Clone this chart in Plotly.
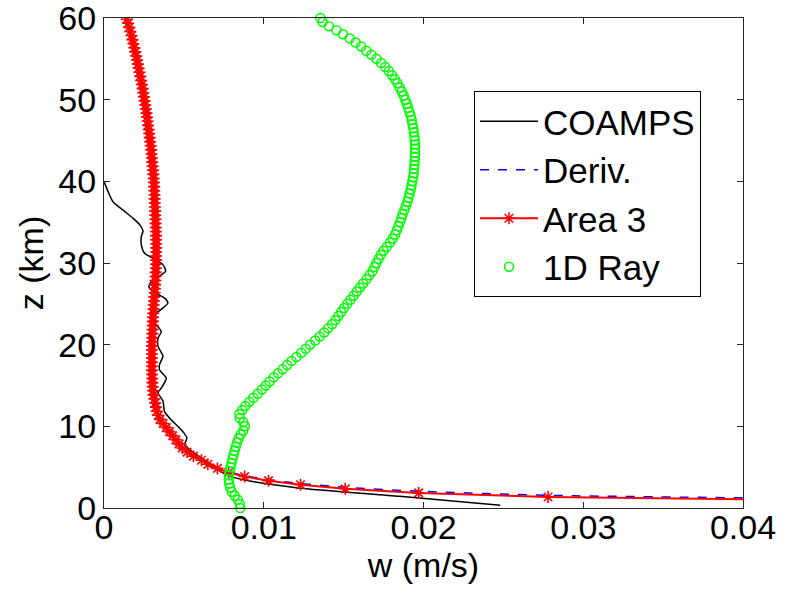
import plotly.graph_objects as go

# ---------------- data ----------------
coamps_z = [40.0, 38.8, 37.5, 36.5, 35.5, 34.7, 33.9, 33.3, 32.2, 31.2, 30.6, 29.8, 29.0, 28.4,
            27.7, 27.1, 26.5, 25.7, 25.1, 24.5, 23.7, 23.3, 22.2, 21.6, 20.8, 19.8, 18.6, 17.6,
            16.9, 15.9, 14.7, 14.1, 13.1, 11.8, 11.0, 9.8, 9.2, 8.6, 7.75, 7.15, 6.25, 5.3,
            4.7, 3.9, 3.3, 2.46, 1.43, 0.33]
coamps_w = [0.0, 0.00024, 0.00056, 0.00118, 0.00181, 0.00223, 0.00244, 0.00234, 0.00234, 0.00254,
            0.00306, 0.00369, 0.00386, 0.00348, 0.00296, 0.00281, 0.00306, 0.00379, 0.0040, 0.00369,
            0.00317, 0.00296, 0.00338, 0.00359, 0.00338, 0.00338, 0.00369, 0.00348, 0.00348, 0.0039,
            0.00359, 0.00338, 0.00369, 0.00379, 0.00411, 0.00473, 0.0050, 0.00519, 0.00505, 0.00536,
            0.00599, 0.00672, 0.00712, 0.00786, 0.00912, 0.01215, 0.0185, 0.0248]

deriv_z = [1.05, 1.55, 2.05, 2.53, 3.0, 3.48, 3.95, 4.45, 4.93, 5.87, 7.85, 9.85, 11.85, 14.85,
           19.85, 24.85, 29.85, 34.85, 39.85, 44.85, 49.85, 54.85, 59.85]
deriv_w = [0.0490, 0.0278, 0.0197, 0.0151, 0.0123, 0.0103, 0.0088, 0.0078, 0.0071, 0.0061,
           0.0047, 0.0039, 0.0033, 0.00305, 0.0030, 0.00311, 0.00326, 0.00323, 0.00313,
           0.00289, 0.00254, 0.00207, 0.00143]

area3_z = [0.85, 1.35, 1.85, 2.35, 2.85, 3.35, 3.85, 4.35, 4.85, 5.35, 5.85, 6.35, 6.85, 7.35,
           7.85, 8.35, 8.85, 9.35, 9.85, 10.35, 10.85, 11.35, 11.85, 12.35, 12.85, 13.35, 13.85,
           14.35, 14.85, 15.35, 15.85, 16.35, 16.85, 17.35, 17.85, 18.35, 18.85, 19.35, 19.85,
           20.35, 20.85, 21.35, 21.85, 22.35, 22.85, 23.35, 23.85, 24.35, 24.85, 25.35, 25.85,
           26.35, 26.85, 27.35, 27.85, 28.35, 28.85, 29.35, 29.85, 30.35, 30.85, 31.35, 31.85,
           32.35, 32.85, 33.35, 33.85, 34.35, 34.85, 35.35, 35.85, 36.35, 36.85, 37.35, 37.85,
           38.35, 38.85, 39.35, 39.85, 40.35, 40.85, 41.35, 41.85, 42.35, 42.85, 43.35, 43.85,
           44.35, 44.85, 45.35, 45.85, 46.35, 46.85, 47.35, 47.85, 48.35, 48.85, 49.35, 49.85,
           50.35, 50.85, 51.35, 51.85, 52.35, 52.85, 53.35, 53.85, 54.35, 54.85, 55.35, 55.85,
           56.35, 56.85, 57.35, 57.85, 58.35, 58.85, 59.35, 59.85]
area3_w = [0.0490, 0.0278, 0.0197, 0.0151, 0.0123, 0.0103, 0.0088, 0.0078, 0.0071, 0.0065,
           0.0061, 0.0056, 0.0052, 0.0049, 0.0047, 0.0045, 0.0043, 0.0041, 0.0039, 0.0037,
           0.0035, 0.0034, 0.0033, 0.00325, 0.0032, 0.00315, 0.0031, 0.00307, 0.00305, 0.00303,
           0.00302, 0.00301, 0.0030, 0.0030, 0.0030, 0.0030, 0.0030, 0.0030, 0.0030, 0.00301,
           0.00302, 0.00303, 0.00304, 0.00305, 0.00306, 0.00307, 0.00308, 0.0031, 0.00311,
           0.00313, 0.00315, 0.00317, 0.00319, 0.0032, 0.00322, 0.00323, 0.00324, 0.00325,
           0.00326, 0.00326, 0.00327, 0.00327, 0.00327, 0.00327, 0.00326, 0.00326, 0.00325,
           0.00324, 0.00323, 0.00322, 0.00321, 0.0032, 0.00319, 0.00318, 0.00317, 0.00316,
           0.00315, 0.00314, 0.00313, 0.00311, 0.00309, 0.00307, 0.00305, 0.00302, 0.0030,
           0.00297, 0.00295, 0.00292, 0.00289, 0.00286, 0.00283, 0.0028, 0.00276, 0.00273,
           0.00269, 0.00266, 0.00262, 0.00258, 0.00254, 0.0025, 0.00246, 0.00242, 0.00237,
           0.00232, 0.00227, 0.00222, 0.00217, 0.00212, 0.00207, 0.00202, 0.00196, 0.0019,
           0.00184, 0.00178, 0.00172, 0.00165, 0.00158, 0.00151, 0.00143]

ray_z = [0.0, 0.5, 1.0, 1.5, 2.0, 2.5, 3.0, 3.5, 4.0, 4.5, 5.0, 5.5, 6.0, 6.5, 7.0, 7.5, 8.0,
         8.5, 9.0, 9.5, 10.0, 10.5, 11.0, 11.5, 12.0, 12.5, 13.0, 13.5, 14.0, 14.5, 15.0, 15.5,
         16.0, 16.5, 17.0, 17.5, 18.0, 18.5, 19.0, 19.5, 20.0, 20.5, 21.0, 21.5, 22.0, 22.5,
         23.0, 23.5, 24.0, 24.5, 25.0, 25.5, 26.0, 26.5, 27.0, 27.5, 28.0, 28.5, 29.0, 29.5,
         30.0, 30.5, 31.0, 31.5, 32.0, 32.5, 33.0, 33.5, 34.0, 34.5, 35.0, 35.5, 36.0, 36.5,
         37.0, 37.5, 38.0, 38.5, 39.0, 39.5, 40.0, 40.5, 41.0, 41.5, 42.0, 42.5, 43.0, 43.5,
         44.0, 44.5, 45.0, 45.5, 46.0, 46.5, 47.0, 47.5, 48.0, 48.5, 49.0, 49.5, 50.0, 50.5,
         51.0, 51.5, 52.0, 52.5, 53.0, 53.5, 54.0, 54.5, 55.0, 55.5, 56.0, 56.5, 57.0, 57.5,
         58.0, 58.5, 59.0, 59.5, 60.0]
ray_w = [0.00853, 0.00850, 0.00838, 0.00818, 0.00800, 0.00790, 0.00783, 0.00781, 0.00782,
         0.00786, 0.00792, 0.00798, 0.00804, 0.00811, 0.00818, 0.00825, 0.00832, 0.00843,
         0.00855, 0.00872, 0.00882, 0.00872, 0.00850, 0.00848, 0.00865, 0.00885, 0.00910,
         0.00935, 0.00962, 0.00988, 0.01012, 0.01037, 0.01062, 0.01090, 0.01118, 0.01146,
         0.01174, 0.01204, 0.01235, 0.01263, 0.01290, 0.01322, 0.01350, 0.01378, 0.01403,
         0.01428, 0.01448, 0.01467, 0.01485, 0.01503, 0.01523, 0.01542, 0.01562, 0.01582,
         0.01602, 0.01622, 0.01643, 0.01662, 0.01680, 0.01693, 0.01705, 0.01718, 0.01733,
         0.01750, 0.01770, 0.01790, 0.01807, 0.01822, 0.01833, 0.01843, 0.01853, 0.01862,
         0.01870, 0.01880, 0.01890, 0.01899, 0.01906, 0.01913, 0.01920, 0.01925, 0.01930,
         0.01935, 0.01939, 0.01941, 0.01943, 0.01945, 0.01946, 0.01947, 0.01947, 0.01947,
         0.01945, 0.01943, 0.01940, 0.01936, 0.01931, 0.01926, 0.01920, 0.01912, 0.01904,
         0.01895, 0.01886, 0.01876, 0.01864, 0.01851, 0.01837, 0.01821, 0.01803, 0.01783,
         0.01760, 0.01735, 0.01705, 0.01674, 0.01642, 0.01610, 0.01575, 0.01538, 0.01496,
         0.01455, 0.01408, 0.01368, 0.01354]

x_ticks = [0, 0.01, 0.02, 0.03, 0.04]
x_tick_labels = ["0", "0.01", "0.02", "0.03", "0.04"]
y_ticks = [0, 10, 20, 30, 40, 50, 60]
y_tick_labels = ["0", "10", "20", "30", "40", "50", "60"]

# ---------------- figure ----------------
FONT = "Liberation Sans, Arial, Helvetica, sans-serif"
fig = go.Figure()

fig.add_trace(go.Scatter(
    x=coamps_w, y=coamps_z, mode="lines", name="COAMPS",
    line=dict(color="black", width=1.5, shape="spline", smoothing=0.6)))

fig.add_trace(go.Scatter(
    x=deriv_w, y=deriv_z, mode="lines", name="Deriv.",
    line=dict(color="#0000ff", width=1.5, dash="dash", shape="spline", smoothing=0.5)))

fig.add_trace(go.Scatter(
    x=area3_w, y=area3_z, mode="lines+markers", name="Area 3",
    line=dict(color="#ff0000", width=2),
    marker=dict(symbol="asterisk-open", size=10, color="#ff0000",
                line=dict(color="#ff0000", width=1.6))))

fig.add_trace(go.Scatter(
    x=ray_w, y=ray_z, mode="markers", name="1D Ray", cliponaxis=False,
    marker=dict(symbol="circle-open", size=9, color="#00ff00",
                line=dict(color="#00ff00", width=1.5))))

axis_common = dict(
    showgrid=False, zeroline=False, showline=True, linecolor="#262626", linewidth=1,
    mirror="ticks", ticks="inside", ticklen=6, tickwidth=1, tickcolor="#262626",
    tickfont=dict(family=FONT, size=34, color="black"), automargin=False,
    ticklabeloverflow="allow",
)

fig.update_xaxes(range=[0, 0.04], tickvals=x_ticks, ticktext=x_tick_labels,
                 ticklabelstandoff=-11,
                 title=dict(text="w (m/s)", font=dict(family=FONT, size=34, color="black"),
                            standoff=2),
                 **axis_common)
fig.update_yaxes(range=[0, 60], tickvals=y_ticks, ticktext=y_tick_labels,
                 title=dict(text="z (km)", font=dict(family=FONT, size=34, color="black"),
                            standoff=4),
                 **axis_common)

fig.update_layout(
    width=793, height=593,
    margin=dict(l=104, r=50, t=18, b=85),
    paper_bgcolor="white", plot_bgcolor="white",
    font=dict(family=FONT, size=34, color="black"),
    legend=dict(x=0.579, y=0.851, xanchor="left", yanchor="top",
                bgcolor="white", bordercolor="black", borderwidth=1,
                font=dict(family=FONT, size=35, color="black"),
                itemwidth=58, tracegroupgap=0),
    showlegend=True,
)

fig.write_html("out.html")
